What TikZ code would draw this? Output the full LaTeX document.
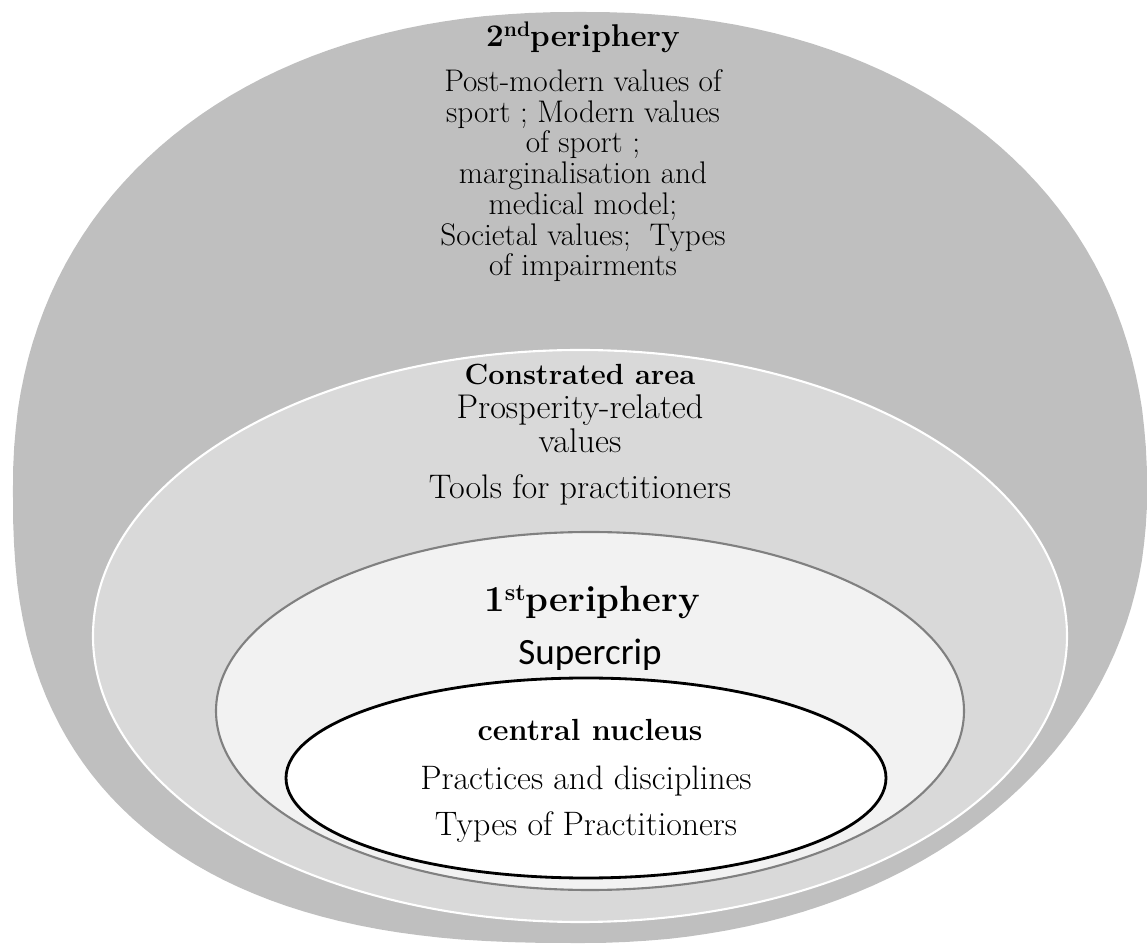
\documentclass[tikz,border=0pt]{standalone}
\usepackage{fontspec}
\newfontfamily\calibrifont{Carlito}
\definecolor{ringouter}{HTML}{BFBFBF}
\definecolor{ringlight}{HTML}{D9D9D9}
\definecolor{ringpale}{HTML}{F2F2F2}
\definecolor{ringedge}{HTML}{808080}

\begin{document}
\begin{tikzpicture}[x=0.02cm, y=-0.02cm,
    declare function={spow(\a,\n)=pow(abs(\a)+0.0001,\n);},
    ringlabel/.style={anchor=base, inner sep=0pt},
    ringblock/.style={anchor=north, align=center, inner sep=0pt}]
    \useasboundingbox (0,0) rectangle (1147,945);
    % outer ring: a little fuller towards the lower left
    \fill[ringouter]
        plot[domain=0:90, samples=46] ({580+567*spow(cos(\x),0.91)},{490-478*spow(sin(\x),0.91)})
        -- plot[domain=90:180, samples=46] ({580-567*spow(cos(\x),0.91)},{490-478*spow(sin(\x),0.91)})
        -- plot[domain=180:270, samples=46] ({580-567*spow(cos(\x),0.8)},{490+453*spow(sin(\x),0.8)})
        -- plot[domain=270:360, samples=46] ({580+567*spow(cos(\x),0.95)},{490+453*spow(sin(\x),0.95)})
        -- cycle;
    \filldraw[fill=ringlight, draw=white, line width=1.2pt] (580,636) ellipse [x radius=487, y radius=286];
    \filldraw[fill=ringpale, draw=ringedge, line width=1.2pt] (590,711) ellipse [x radius=374, y radius=179];
    \filldraw[fill=white, draw=black, line width=1.6pt] (586,778) ellipse [x radius=300, y radius=100];

    \node[ringlabel, font=\bfseries\fontsize{17.9}{20}\selectfont] (secondhead) at (583,47)
        {2\raisebox{5.8pt}{\fontsize{12}{12}\selectfont nd}periphery};
    \node[ringblock, font=\fontsize{17.8}{17.5}\selectfont] (secondbody) at (583,69)
        {Post-modern values of\\ sport ; Modern values\\ of sport ;\\ marginalisation and\\ medical model;\\ Societal values;\ \ Types\\ of impairments};

    \node[ringlabel, font=\bfseries\fontsize{16.6}{19}\selectfont] (contrhead) at (580,385) {Constrated area};
    \node[ringblock, font=\fontsize{19.5}{19.3}\selectfont] (contrbody) at (580,394) {Prosperity-related\\ values};
    \node[ringlabel, font=\fontsize{19.4}{20}\selectfont] (tools) at (580,499) {Tools for practitioners};

    \node[ringlabel, font=\bfseries\fontsize{20.8}{23}\selectfont] (firsthead) at (592,612)
        {1\raisebox{6.8pt}{\fontsize{13.5}{14}\selectfont st}periphery};
    \node[ringlabel, font=\calibrifont\fontsize{21.1}{24}\selectfont] (supercrip) at (590,665) {Supercrip};

    \node[ringlabel, font=\bfseries\fontsize{17.4}{20}\selectfont] (nucleushead) at (590,741) {central nucleus};
    \node[ringlabel, font=\fontsize{19.3}{21}\selectfont] (practices) at (586,790) {Practices and disciplines};
    \node[ringlabel, font=\fontsize{19.3}{21}\selectfont] (practitioners) at (586,836) {Types of Practitioners};
\end{tikzpicture}
\end{document}
